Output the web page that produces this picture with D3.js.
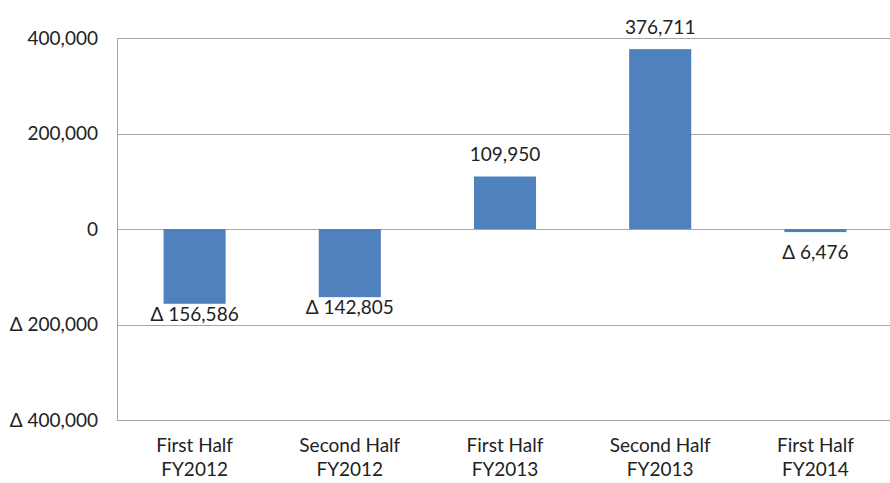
<!DOCTYPE html>
<html>
<head>
<meta charset="utf-8">
<script src="https://cdn.jsdelivr.net/npm/d3@7"></script>
<style>
  body { margin: 0; background: #fff; }
  text { font-family: Lato, "Open Sans", sans-serif; fill: #222; }
</style>
</head>
<body>
<script>
// chart values
var periods = ["First Half|FY2012", "Second Half|FY2012", "First Half|FY2013", "Second Half|FY2013", "First Half|FY2014"];
var changes = [-156586, -142805, 109950, 376711, -6476];
var yTicks = [400000, 200000, 0, -200000, -400000];

var width = 890, height = 483;
var plotLeft = 117, plotRight = 893, plotTop = 38, plotBottom = 420;

var fmt = d3.format(",");
function label(v) { // negatives shown with a triangle instead of a minus
  return v < 0 ? "\u0394 " + fmt(-v) : fmt(v);
}

var svg = d3.select("body").append("svg")
  .attr("width", width)
  .attr("height", height);

var x = d3.scaleBand().domain(periods).range([plotLeft, plotRight]).paddingInner(0.6).paddingOuter(0.3);
var y = d3.scaleLinear().domain([-400000, 400000]).range([plotBottom, plotTop]);

// gridlines
svg.append("g").selectAll("line")
  .data(yTicks)
  .enter().append("line")
  .attr("x1", plotLeft).attr("x2", plotRight)
  .attr("y1", function (d) { return Math.round(y(d)) + 0.5; })
  .attr("y2", function (d) { return Math.round(y(d)) + 0.5; })
  .style("stroke", "#a6a6a6")
  .style("stroke-width", 1);

// left axis line
svg.append("line")
  .attr("x1", plotLeft + 0.5).attr("x2", plotLeft + 0.5)
  .attr("y1", plotTop).attr("y2", plotBottom + 0.5)
  .style("stroke", "#a6a6a6");

// y labels
svg.append("g").selectAll("text")
  .data(yTicks)
  .enter().append("text")
  .attr("x", 98)
  .attr("y", function (d) { return y(d); })
  .attr("dy", "0.35em")
  .attr("text-anchor", "end")
  .style("font-size", "19px")
  .text(label);

// bars
svg.append("g").selectAll("rect")
  .data(changes)
  .enter().append("rect")
  .attr("x", function (d, i) { return x(periods[i]); })
  .attr("width", x.bandwidth())
  .attr("y", function (d) { return y(Math.max(0, d)); })
  .attr("height", function (d) { return Math.abs(y(d) - y(0)); })
  .style("fill", "#4f81bd");

// value labels
svg.append("g").selectAll("text")
  .data(changes)
  .enter().append("text")
  .attr("x", function (d, i) { return x(periods[i]) + x.bandwidth() / 2; })
  .attr("y", function (d) { return d < 0 ? Math.max(y(d) + 17, y(0) + 30) : y(d) - 15; })
  .attr("text-anchor", "middle")
  .style("font-size", "19px")
  .text(label);

// category labels, two lines each
var cats = svg.append("g").selectAll("text")
  .data(periods)
  .enter().append("text")
  .attr("text-anchor", "middle")
  .style("font-size", "19px")
  .attr("transform", function (d) { return "translate(" + (x(d) + x.bandwidth() / 2) + ",452)"; });

cats.selectAll("tspan")
  .data(function (d) { return d.split("|"); })
  .enter().append("tspan")
  .attr("x", 0)
  .attr("y", function (d, i) { return i * 24; })
  .text(function (d) { return d; });
</script>
</body>
</html>
